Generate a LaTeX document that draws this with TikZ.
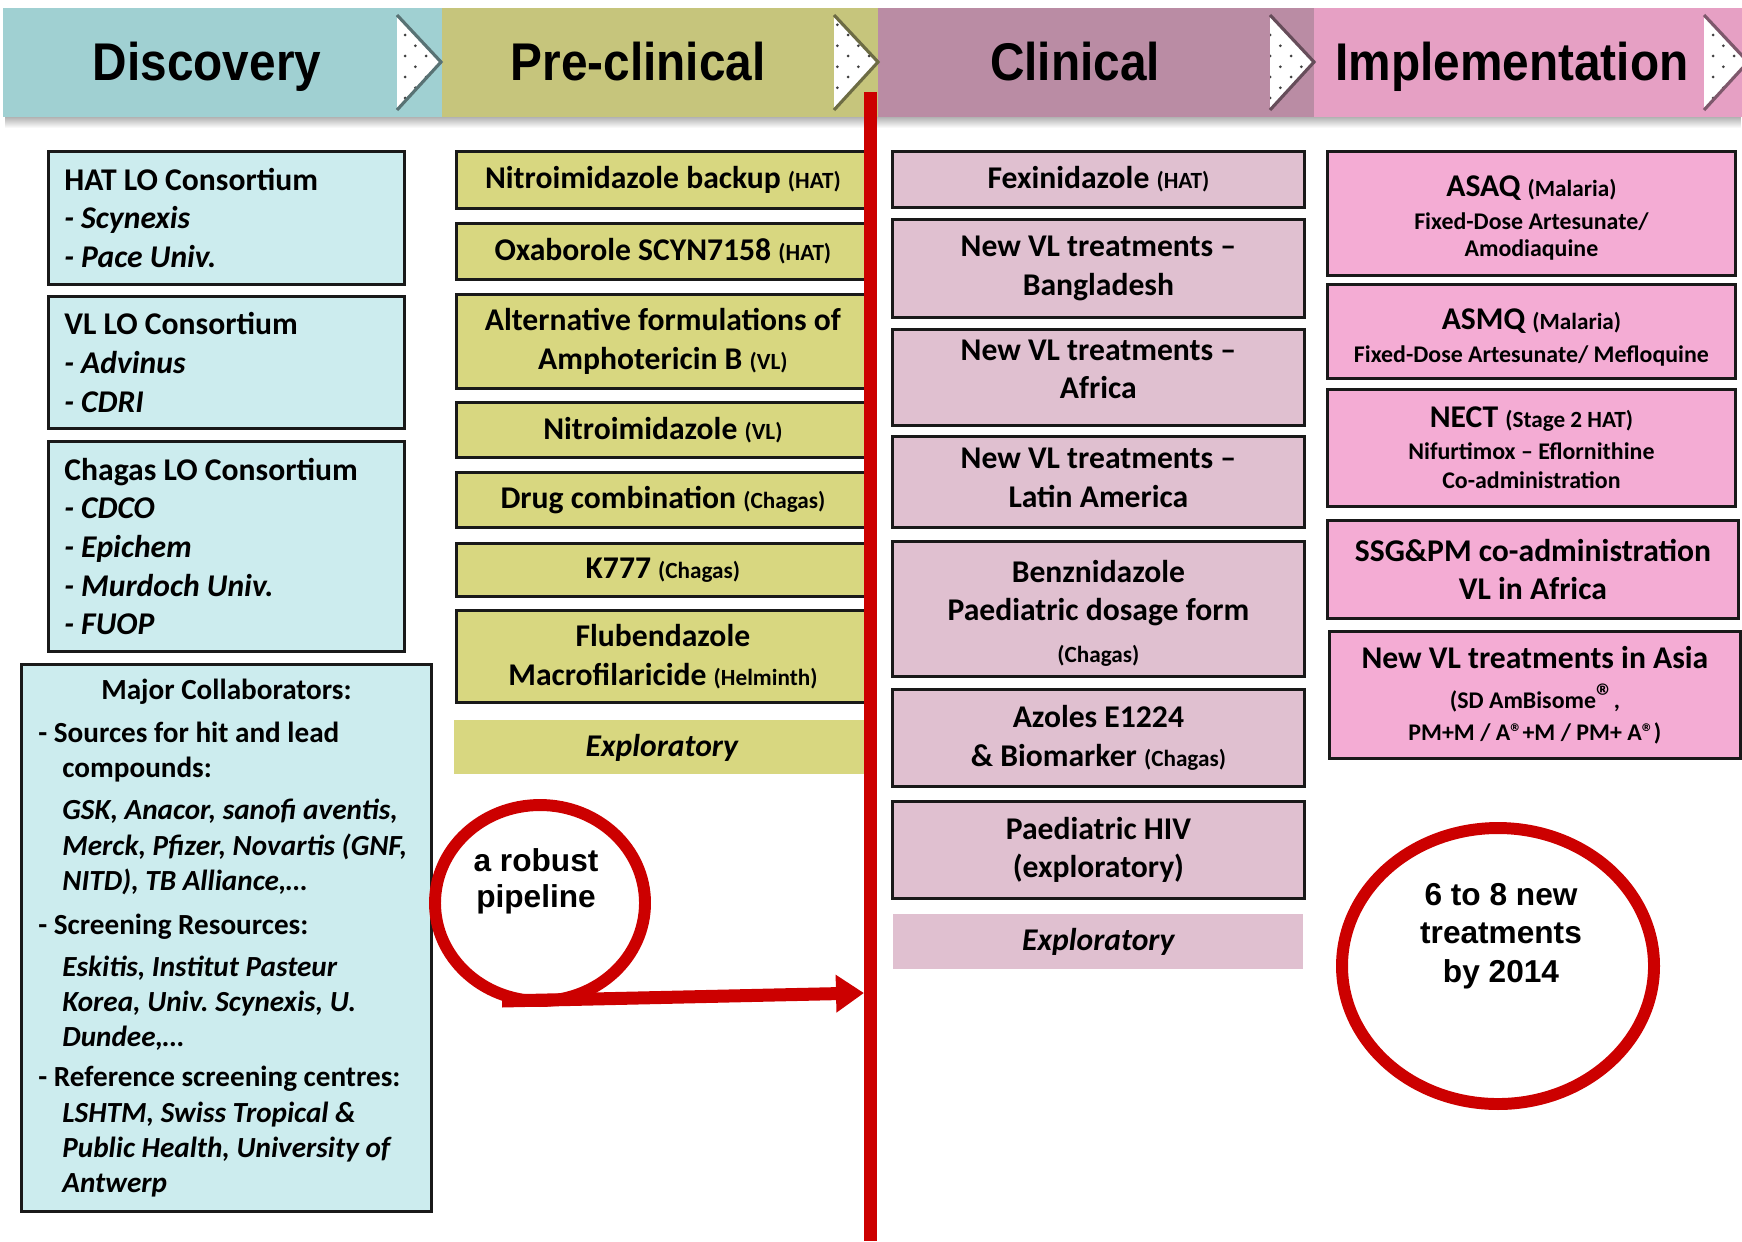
\documentclass[tikz,border=0pt]{standalone}
\usepackage{fontspec}
\setmainfont{Carlito}
\newfontfamily\arialfont{Liberation Sans}
\newfontfamily\headfont[FakeStretch=0.9]{Liberation Sans}
\usepackage{tikz}
\usetikzlibrary{positioning}
\usetikzlibrary{arrows.meta}
\usetikzlibrary{shapes.geometric}
\usetikzlibrary{patterns.meta}
\usetikzlibrary{fadings}

\definecolor{discHead}{RGB}{160,208,210}
\definecolor{discFill}{RGB}{204,236,238}
\definecolor{preHead}{RGB}{198,197,124}
\definecolor{preFill}{RGB}{216,215,128}
\definecolor{clinHead}{RGB}{186,140,164}
\definecolor{clinFill}{RGB}{224,192,208}
\definecolor{implHead}{RGB}{230,160,196}
\definecolor{implFill}{RGB}{244,172,212}
\definecolor{gateRed}{RGB}{204,0,0}

\tikzdeclarepattern{
  name=chevron dots,
  bounding box={(0pt,0pt) and (6pt,6pt)},
  tile size={(6pt,6pt)},
  code={
    \fill (1.5pt,1.5pt) circle (0.45pt);
    \fill (4.5pt,4.5pt) circle (0.45pt);
  }
}

\tikzset{basic box/.style={draw=black!90,
                           line width=0.8pt,
                           anchor=north west,
                           inner sep=0pt,
                           align=flush center,
                           text width=4.0cm,
                           font=\bfseries\fontsize{9}{11}\selectfont}}
\tikzset{disc box/.style={basic box,fill=discFill,align=flush left,
                          minimum width=3.56cm,text width=3.24cm}}
\tikzset{pre box/.style={basic box,fill=preFill,minimum width=4.13cm}}
\tikzset{clin box/.style={basic box,fill=clinFill,minimum width=4.12cm}}
\tikzset{impl box/.style={basic box,fill=implFill}}
\tikzset{explo box/.style={basic box,draw=none,
                           font=\bfseries\itshape\fontsize{9}{11}\selectfont}}
\newcommand{\disease}[1]{{\fontsize{6.6}{8}\selectfont #1}}
\newcommand{\detail}[1]{{\fontsize{6.8}{8}\selectfont #1}}
\newcommand{\collind}{\hspace*{0.24cm}}
\newcommand{\topstrut}[1]{\rule{0pt}{#1}}
\newcommand{\botstrut}[1]{\rule[-#1]{0pt}{#1}}

\begin{document}
\begin{tikzpicture}
      [
      head text/.style={font=\headfont\bfseries\fontsize{15.1}{16}\selectfont,
      inner sep=0pt,anchor=base},
      ring/.style={ellipse,draw=gateRed,line width=3.4pt,inner sep=0pt},
      ring text/.style={font=\arialfont\bfseries\fontsize{9}{11}\selectfont,
      align=flush center,text width=3cm,inner sep=0pt},
      gate/.style={draw=gateRed,line width=3.7pt},
      ]
      \useasboundingbox (0,0) rectangle (17.42,-12.41);

      % phase band
      \fill [black!30,path fading=south] (0.05,-1.17) rectangle (17.42,-1.28);
      \foreach \xa/\xb/\xm/\col/\txt [count=\i] in
      {
      0.03/4.42/2.07/discHead/Discovery,
      4.42/8.78/6.38/preHead/Pre-clinical,
      8.78/13.14/10.75/clinHead/Clinical,
      13.14/17.42/15.12/implHead/Implementation
      }
      {
      \fill [\col] (\xa,-0.08) rectangle (\xb,-1.17);
      \node [head text] (head\i) at (\xm,-0.80) {\txt};
      }

      % chevrons
      \foreach \xc/\col in {3.97/discHead,8.34/preHead,12.70/clinHead,17.04/implHead}
      {
      \fill [white] (\xc,-0.15) -- ++(0.44,-0.47) -- ++(-0.44,-0.48) -- cycle;
      \fill [pattern=chevron dots,pattern color=black!75]
      (\xc,-0.15) -- ++(0.44,-0.47) -- ++(-0.44,-0.48) -- cycle;
      \draw [\col!55!black,line width=0.9pt]
      (\xc,-0.15) -- ++(0.44,-0.47) -- ++(-0.44,-0.48);
      }

      % discovery
      \foreach \y/\h/\txt [count=\i] in
      {
      1.50/1.33/{HAT LO Consortium\\ \textit{- Scynexis}\\ \textit{- Pace Univ.}},
      2.95/1.32/{VL LO Consortium\\ \textit{- Advinus}\\ \textit{- CDRI}},
      4.40/2.10/{Chagas LO Consortium\\ \textit{- CDCO}\\ \textit{- Epichem}\\
      \textit{- Murdoch Univ.}\\ \textit{- FUOP}}
      }
      {
      \node [disc box,minimum height=\h cm] (disc\i) at (0.47,-\y) {\txt};
      }

      \node [disc box,minimum width=4.10cm,minimum height=5.47cm,text width=3.76cm,
      font=\bfseries\fontsize{8.3}{10}\selectfont] (collab) at (0.20,-6.63)
      {\makebox[\linewidth]{Major Collaborators:}\\[2.3pt]
      - Sources for hit and lead\\
      \collind compounds:\\[2pt]
      \collind\mbox{\textit{GSK, Anacor, sanofi aventis,}}\\
      \collind\mbox{\textit{Merck, Pfizer, Novartis (GNF,}}\\
      \collind\textit{NITD), TB Alliance,…}\\[2.5pt]
      - Screening Resources:\\[2pt]
      \collind\textit{Eskitis, Institut Pasteur}\\
      \collind\mbox{\textit{Korea, Univ.\ Scynexis, U.}}\\
      \collind\textit{Dundee,…}\\[1.5pt]
      \mbox{- Reference screening centres:}\\
      \collind\mbox{\textit{LSHTM, Swiss Tropical \&}}\\
      \collind\mbox{\textit{Public Health, University of}}\\
      \collind\textit{Antwerp}};

      % pre-clinical
      \foreach \y/\h/\txt [count=\i] in
      {
      1.50/0.57/{Nitroimidazole backup \disease{(HAT)}},
      2.22/0.56/{Oxaborole SCYN7158 \disease{(HAT)}},
      2.93/0.94/{Alternative formulations of\\ Amphotericin B \disease{(VL)}},
      4.01/0.55/{Nitroimidazole \disease{(VL)}},
      4.71/0.55/{Drug combination \disease{(Chagas)}},
      5.42/0.53/{K777 \disease{(Chagas)}},
      6.09/0.92/{Flubendazole\\ Macrofilaricide \disease{(Helminth)}}
      }
      {
      \node [pre box,minimum height=\h cm] (pre\i) at (4.55,-\y) {\txt};
      }
      \node [explo box,fill=preFill,minimum width=4.15cm,minimum height=0.54cm]
      (preX) at (4.53,-7.19) {Exploratory};

      % clinical
      \foreach \y/\h/\txt [count=\i] in
      {
      1.50/0.56/{Fexinidazole \disease{(HAT)}},
      2.18/0.98/{New VL treatments –\\ Bangladesh},
      3.28/0.96/{New VL treatments –\\ Africa\botstrut{4.6pt}},
      4.35/0.91/{New VL treatments –\\ Latin America\botstrut{2.5pt}},
      5.40/1.35/{\topstrut{8.8pt}Benznidazole\\ Paediatric dosage form\\[1pt] \disease{(Chagas)}},
      6.88/0.97/{Azoles E1224\\ \& Biomarker \disease{(Chagas)}},
      8.00/0.97/{Paediatric HIV\\ (exploratory)}
      }
      {
      \node [clin box,minimum height=\h cm] (clin\i) at (8.91,-\y) {\txt};
      }
      \node [explo box,fill=clinFill,minimum width=4.10cm,minimum height=0.55cm]
      (clinX) at (8.92,-9.13) {Exploratory};

      % implementation
      \foreach \x/\y/\w/\h/\txt [count=\i] in
      {
      13.26/1.50/4.08/1.24/{\topstrut{8.4pt}ASAQ \disease{(Malaria)}\\[-1.6pt]
      \detail{Fixed-Dose Artesunate/}\\[-3.3pt] \detail{Amodiaquine}},
      13.26/2.83/4.08/0.94/{\topstrut{9.6pt}ASMQ \disease{(Malaria)}\\[-1.6pt]
      \detail{Fixed-Dose Artesunate/ Mefloquine}},
      13.26/3.88/4.08/1.17/{NECT \disease{(Stage 2 HAT)}\\[-1.9pt]
      \detail{Nifurtimox – Eflornithine}\\[-2.75pt] \detail{Co-administration}},
      13.26/5.19/4.11/0.98/{SSG\&PM co-administration\\ VL in Africa},
      13.28/6.30/4.11/1.27/{New VL treatments in Asia\\[0.4pt]
      \detail{(SD AmBisome{\fontsize{10}{8}\selectfont ®},}\\[-1.9pt]
      \detail{PM+M / A®+M / PM+ A®)}}
      }
      {
      \node [impl box,minimum width=\w cm,minimum height=\h cm] (impl\i) at (\x,-\y) {\txt};
      }

      % rings
      \node [ring,minimum width=2.10cm,minimum height=1.96cm] (pipe) at (5.40,-9.03) {};
      \node [ring text,font=\arialfont\bfseries\fontsize{9}{10.2}\selectfont]
      (pipetext) at (5.36,-8.81) {a robust\\pipeline};
      \node [ring,minimum width=3.12cm,minimum height=2.76cm] (goal) at (14.98,-9.66) {};
      \node [ring text] (goaltext) at (15.01,-9.36) {6 to 8 new\\treatments\\by 2014};

      % red gate and arrow
      \coordinate (gatetop) at (8.70,-0.92);
      \coordinate (gatebot) at (8.70,-12.41);
      \coordinate (pipetail) at ([xshift=-0.38cm,yshift=0.06cm]pipe.south);
      \coordinate (pipehead) at (8.64,-9.93);
      \draw [gate,-{Triangle[length=0.28cm,width=0.36cm]}] (pipetail) -- (pipehead);
      \draw [gate] (gatetop) -- (gatebot);

    \end{tikzpicture}
\end{document}
